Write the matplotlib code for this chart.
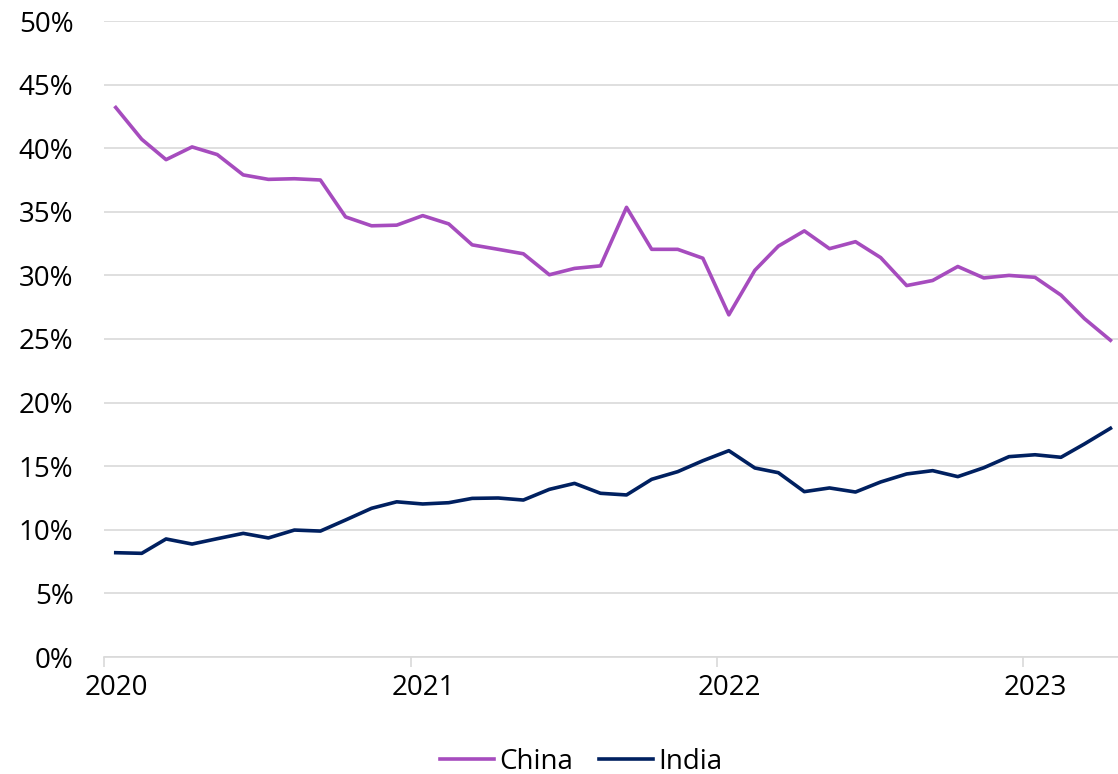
import matplotlib
matplotlib.use("Agg")
import matplotlib.pyplot as plt
import matplotlib.dates as mdates
import matplotlib.transforms as mtransforms
import pandas as pd

plt.rcParams['font.family'] = ['Open Sans', 'DejaVu Sans']

# monthly shares, Jan 2020 - Apr 2023 (%), plotted mid-month
months = pd.date_range("2020-01-01", periods=40, freq="MS") + pd.Timedelta(days=14)
china = [43.2, 40.7, 39.1, 40.1, 39.5, 37.9, 37.55, 37.6, 37.5, 34.6,
         33.9, 33.95, 34.7, 34.05, 32.4, 32.05, 31.7, 30.05, 30.55, 30.75,
         35.35, 32.05, 32.05, 31.35, 26.9, 30.4, 32.3, 33.5, 32.1, 32.65,
         31.4, 29.2, 29.6, 30.7, 29.8, 30.0, 29.85, 28.45, 26.6, 24.9]
india = [8.2, 8.15, 9.28, 8.88, 9.3, 9.72, 9.36, 9.98, 9.9, 10.77,
         11.69, 12.2, 12.03, 12.13, 12.47, 12.5, 12.34, 13.18, 13.65, 12.87,
         12.74, 13.97, 14.57, 15.43, 16.22, 14.86, 14.49, 13.0, 13.29, 12.97,
         13.76, 14.39, 14.65, 14.18, 14.88, 15.75, 15.9, 15.7, 16.75, 17.98]

fig = plt.figure(figsize=(11.18, 7.74), dpi=100)
ax = fig.add_axes([104/1118, 1 - 657/774, 1 - 104/1118, (657 - 21)/774])

ax.plot(months, china, color="#A64CBE", lw=2.6, label="China")
ax.plot(months, india, color="#002060", lw=2.6, label="India")

ax.set_ylim(0, 50)
ax.set_yticks(range(0, 51, 5))
ax.set_yticklabels([f"{v}%" for v in range(0, 51, 5)])
ax.set_xlim(pd.Timestamp("2020-01-01"), pd.Timestamp("2023-04-24"))
ax.xaxis.set_major_locator(mdates.YearLocator())
ax.xaxis.set_major_formatter(mdates.DateFormatter("%Y"))

grey = "#d9d9d9"
ax.grid(axis="y", color=grey, lw=1.2)
ax.set_axisbelow(True)
for s in ["top", "right", "left"]:
    ax.spines[s].set_visible(False)
ax.spines["bottom"].set_color(grey)
ax.spines["bottom"].set_linewidth(1.2)
ax.tick_params(axis="y", length=0, pad=22, labelsize=20)
ax.tick_params(axis="x", length=7, width=1.2, color=grey, pad=5, labelsize=20)

# year labels sit under the January point rather than on the tick
shift = mtransforms.ScaledTranslation(0.12, 0, fig.dpi_scale_trans)
for lbl in ax.get_xticklabels():
    lbl.set_transform(lbl.get_transform() + shift)

fig.legend(loc="center", bbox_to_anchor=(581/1118, 1 - 762/774), ncol=2,
           frameon=False, fontsize=20, handlelength=1.95, handletextpad=0.18,
           columnspacing=0.93, borderpad=0)

fig.savefig("out.png", dpi=100)
